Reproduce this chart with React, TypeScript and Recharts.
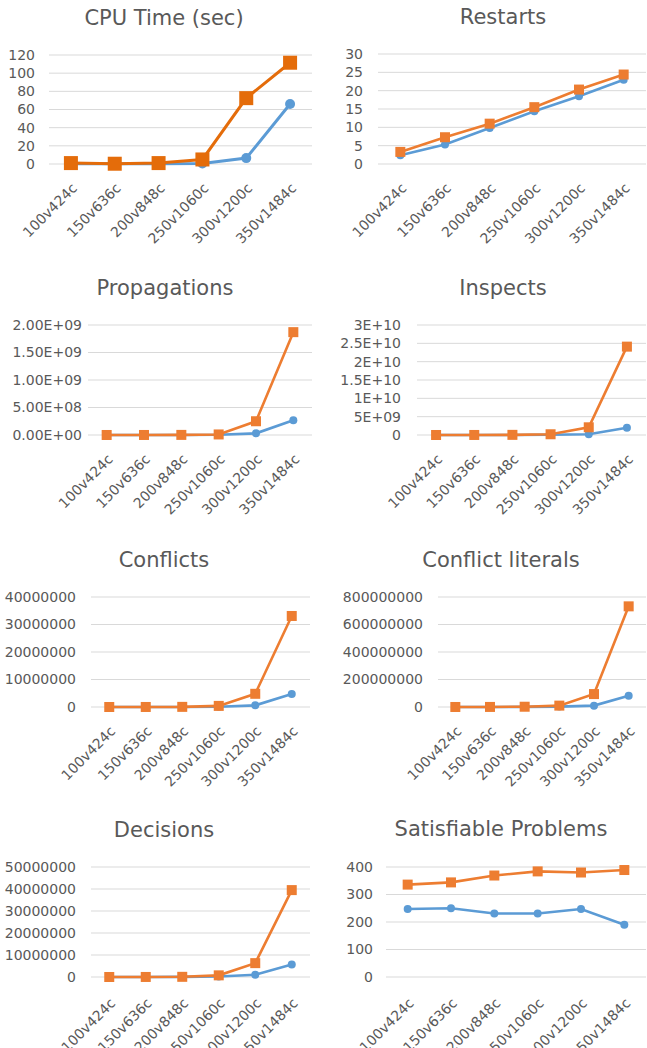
import React from 'react';
import { LineChart, Line, XAxis, YAxis, CartesianGrid } from 'recharts';

const categories = ['100v424c', '150v636c', '200v848c', '250v1060c', '300v1200c', '350v1484c'];

const cpuBlue = [0.3, 0.2, 0.4, 0.5, 6.5, 66];
const cpuOrange = [1, 0.3, 1, 5, 72.5, 111.5];
const cpuTicks = [0, 20, 40, 60, 80, 100, 120];
const cpuTickLabels = ['0', '20', '40', '60', '80', '100', '120'];

const restartsBlue = [2.4, 5.3, 9.8, 14.4, 18.5, 23];
const restartsOrange = [3.3, 7.3, 11, 15.5, 20.3, 24.4];
const restartsTicks = [0, 5, 10, 15, 20, 25, 30];
const restartsTickLabels = ['0', '5', '10', '15', '20', '25', '30'];

const propagationsBlue = [1e5, 3e5, 1e6, 5e6, 3e7, 2.7e8];
const propagationsOrange = [2e5, 5e5, 2e6, 1e7, 2.5e8, 1.87e9];
const propagationsTicks = [0, 5e8, 1e9, 1.5e9, 2e9];
const propagationsTickLabels = ['0.00E+00', '5.00E+08', '1.00E+09', '1.50E+09', '2.00E+09'];

const inspectsBlue = [1e6, 5e6, 2e7, 8e7, 2e8, 2.0e9];
const inspectsOrange = [2e6, 1e7, 4e7, 2e8, 2.1e9, 2.41e10];
const inspectsTicks = [0, 5e9, 1e10, 1.5e10, 2e10, 2.5e10, 3e10];
const inspectsTickLabels = ['0', '5E+09', '1E+10', '1.5E+10', '2E+10', '2.5E+10', '3E+10'];

const conflictsBlue = [1e3, 5e3, 2e4, 1e5, 6e5, 4.7e6];
const conflictsOrange = [2e3, 1e4, 5e4, 4e5, 4.8e6, 3.31e7];
const conflictsTicks = [0, 1e7, 2e7, 3e7, 4e7];
const conflictsTickLabels = ['0', '10000000', '20000000', '30000000', '40000000'];

const literalsBlue = [5e4, 2e5, 8e5, 3e6, 1e7, 8.2e7];
const literalsOrange = [1e5, 5e5, 2e6, 1e7, 9.4e7, 7.32e8];
const literalsTicks = [0, 2e8, 4e8, 6e8, 8e8];
const literalsTickLabels = ['0', '200000000', '400000000', '600000000', '800000000'];

const decisionsBlue = [2e3, 1e4, 4e4, 2e5, 1e6, 5.7e6];
const decisionsOrange = [4e3, 2e4, 8e4, 7.5e5, 6.3e6, 3.95e7];
const decisionsTicks = [0, 1e7, 2e7, 3e7, 4e7, 5e7];
const decisionsTickLabels = ['0', '10000000', '20000000', '30000000', '40000000', '50000000'];

const satBlue = [247, 250, 231, 231, 247, 190];
const satOrange = [336, 344, 369, 384, 380, 389];
const satTicks = [0, 100, 200, 300, 400];
const satTickLabels = ['0', '100', '200', '300', '400'];

const titles = ['CPU Time (sec)', 'Restarts', 'Propagations', 'Inspects', 'Conflicts', 'Conflict literals', 'Decisions', 'Satisfiable Problems'];

const BLUE = '#5B9BD5';
const ORANGE = '#ED7D31';
const TEXT = '#595959';
const FONT = 'DejaVu Sans';

type Layout = {
  left: number; top: number; width: number;
  plotLeft: number; plotRight: number; plotTop: number; plotBottom: number;
  titleX: number; titleY: number;
  sq: number; r: number; sw: number; orange: string; yGap: number; xGap: number;
};

const layouts: Layout[] = [
  { left: 0, top: 0, width: 323, plotLeft: 49, plotRight: 312, plotTop: 55, plotBottom: 164, titleX: 164, titleY: 18, sq: 14, r: 5, sw: 3, orange: '#E46C0A', yGap: 8, xGap: 12 },
  { left: 323, top: 0, width: 324, plotLeft: 378, plotRight: 646, plotTop: 54, plotBottom: 164, titleX: 503, titleY: 17, sq: 10, r: 4, sw: 2.6, orange: ORANGE, yGap: 9, xGap: 12 },
  { left: 0, top: 265, width: 323, plotLeft: 88, plotRight: 312, plotTop: 325, plotBottom: 435, titleX: 165, titleY: 288, sq: 10, r: 4, sw: 2.6, orange: ORANGE, yGap: 0, xGap: 12 },
  { left: 323, top: 265, width: 324, plotLeft: 417, plotRight: 646, plotTop: 325, plotBottom: 435, titleX: 503, titleY: 288, sq: 10, r: 4, sw: 2.6, orange: ORANGE, yGap: 10, xGap: 12 },
  { left: 0, top: 535, width: 323, plotLeft: 91, plotRight: 310, plotTop: 597, plotBottom: 707, titleX: 164, titleY: 560, sq: 10, r: 4, sw: 2.6, orange: ORANGE, yGap: 9, xGap: 12 },
  { left: 323, top: 535, width: 324, plotLeft: 438, plotRight: 646, plotTop: 597, plotBottom: 707, titleX: 501, titleY: 560, sq: 10, r: 4, sw: 2.6, orange: ORANGE, yGap: 9, xGap: 12 },
  { left: 0, top: 800, width: 323, plotLeft: 91, plotRight: 310, plotTop: 867, plotBottom: 977, titleX: 164, titleY: 830, sq: 10, r: 4, sw: 2.6, orange: ORANGE, yGap: 9, xGap: 14 },
  { left: 323, top: 800, width: 324, plotLeft: 386, plotRight: 646, plotTop: 867, plotBottom: 977, titleX: 501, titleY: 829, sq: 10, r: 4, sw: 2.6, orange: ORANGE, yGap: 7, xGap: 14 },
];

const seriesList = [
  { blue: cpuBlue, orange: cpuOrange, ticks: cpuTicks, labels: cpuTickLabels },
  { blue: restartsBlue, orange: restartsOrange, ticks: restartsTicks, labels: restartsTickLabels },
  { blue: propagationsBlue, orange: propagationsOrange, ticks: propagationsTicks, labels: propagationsTickLabels },
  { blue: inspectsBlue, orange: inspectsOrange, ticks: inspectsTicks, labels: inspectsTickLabels },
  { blue: conflictsBlue, orange: conflictsOrange, ticks: conflictsTicks, labels: conflictsTickLabels },
  { blue: literalsBlue, orange: literalsOrange, ticks: literalsTicks, labels: literalsTickLabels },
  { blue: decisionsBlue, orange: decisionsOrange, ticks: decisionsTicks, labels: decisionsTickLabels },
  { blue: satBlue, orange: satOrange, ticks: satTicks, labels: satTickLabels },
];

const makeSquare = (size: number, color: string) => (props: any) => {
  const { cx, cy, index } = props;
  if (cx == null || cy == null) return <g key={`s${index}`} />;
  return <rect key={`s${index}`} x={cx - size / 2} y={cy - size / 2} width={size} height={size} fill={color} />;
};

const makeCircle = (r: number, color: string) => (props: any) => {
  const { cx, cy, index } = props;
  if (cx == null || cy == null) return <g key={`c${index}`} />;
  return <circle key={`c${index}`} cx={cx} cy={cy} r={r} fill={color} />;
};

function Panel({ idx }: { idx: number }) {
  const L = layouts[idx];
  const S = seriesList[idx];
  const data = categories.map((c, i) => ({ cat: c, blue: S.blue[i], orange: S.orange[i] }));
  const xh = 75;
  const height = L.plotBottom - L.top + 85;
  const plotW = L.plotRight - L.plotLeft;
  const band = plotW / categories.length;
  return (
    <div style={{ position: 'absolute', left: L.left, top: L.top, width: L.width, height }}>
      <div
        style={{
          position: 'absolute', left: L.titleX - L.left - 150, width: 300, top: L.titleY - L.top - 14,
          height: 28, lineHeight: '28px', textAlign: 'center', fontFamily: FONT, fontSize: 21, color: TEXT, whiteSpace: 'nowrap',
        }}
      >
        {titles[idx]}
      </div>
      <LineChart
        width={L.width}
        height={height}
        data={data}
        margin={{ top: L.plotTop - L.top, right: L.left + L.width - L.plotRight, left: 0, bottom: height - (L.plotBottom - L.top) - xh }}
      >
        <CartesianGrid vertical={false} stroke="#D9D9D9" strokeWidth={1} />
        <XAxis
          dataKey="cat"
          interval={0}
          axisLine={false}
          tickLine={false}
          height={xh}
          padding={{ left: band / 2, right: band / 2 }}
          angle={-45}
          textAnchor="end"
          tickMargin={L.xGap}
          tick={{ fontFamily: FONT, fontSize: 14, fill: TEXT }}
        />
        <YAxis
          width={L.plotLeft - L.left}
          domain={[0, S.ticks[S.ticks.length - 1]]}
          ticks={S.ticks}
          interval={0}
          axisLine={false}
          tickLine={false}
          tickMargin={L.yGap}
          tickFormatter={(v: number) => S.labels[S.ticks.indexOf(v)] ?? String(v)}
          tick={{ fontFamily: FONT, fontSize: 14, fill: TEXT }}
        />
        <Line
          dataKey="blue"
          stroke={BLUE}
          strokeWidth={L.sw}
          dot={makeCircle(L.r, BLUE)}
          activeDot={false}
          isAnimationActive={false}
        />
        <Line
          dataKey="orange"
          stroke={L.orange}
          strokeWidth={L.sw}
          dot={makeSquare(L.sq, L.orange)}
          activeDot={false}
          isAnimationActive={false}
        />
      </LineChart>
    </div>
  );
}

export default function App() {
  return (
    <div style={{ position: 'absolute', left: 0, top: 0, width: 647, height: 1048, background: '#fff', overflow: 'hidden' }}>
      {layouts.map((_, i) => (
        <Panel key={i} idx={i} />
      ))}
    </div>
  );
}
